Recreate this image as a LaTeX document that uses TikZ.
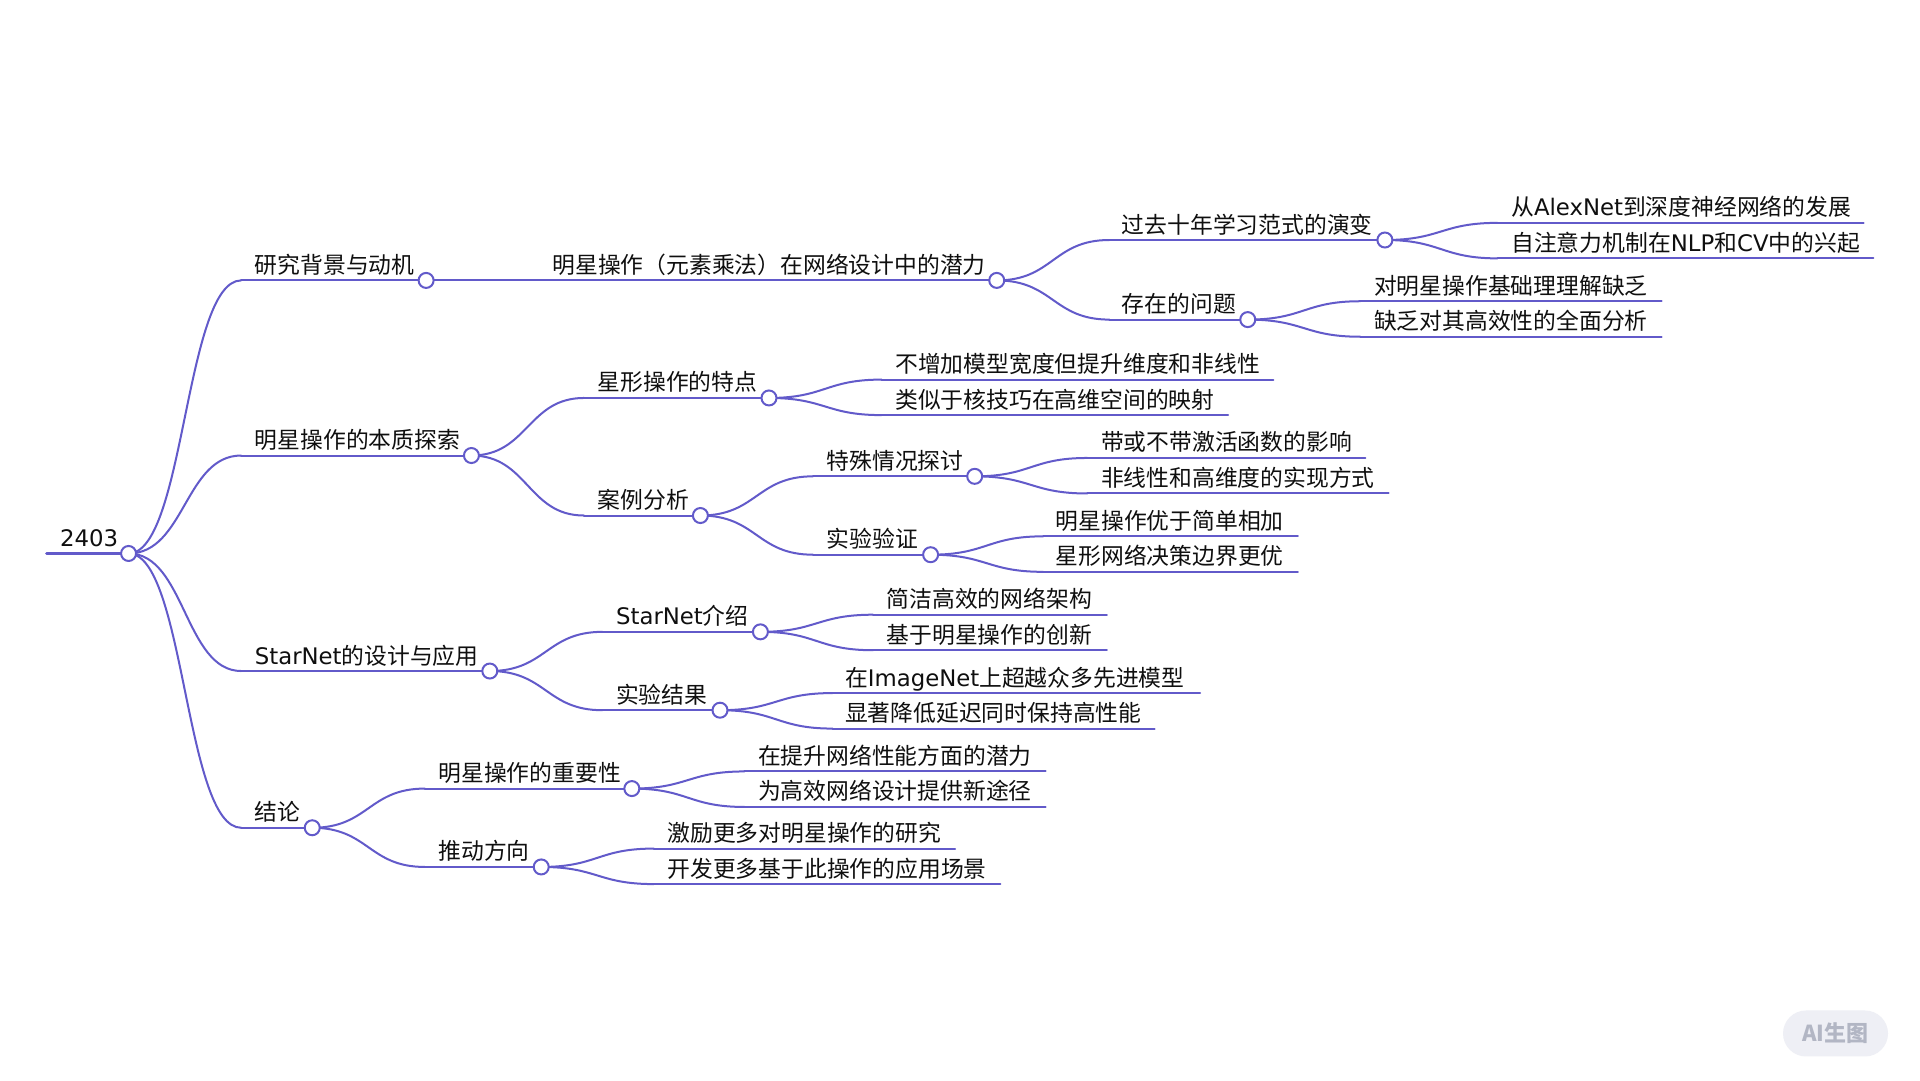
\documentclass[tikz,border=0pt]{standalone}
\usepackage{fontspec}
\setmainfont{Noto Sans CJK SC}
\newfontfamily\lat{DejaVu Sans}
\usetikzlibrary{calc}
\definecolor{mmline}{RGB}{98,90,202}
\definecolor{mmtext}{RGB}{15,15,15}
\definecolor{wmbg}{RGB}{238,239,245}
\definecolor{wmtx}{RGB}{178,182,196}
\newcommand\mmnode[6]{%
  \coordinate (#1-s) at (#3,#2);
  \coordinate (#1-e) at (#5,#2);
  \node[txt] (#1) at (#4,#2-5.7) {#6};
  \draw[ln] (#1-s) -- (#1-e);
}
\newcommand\mmlink[2]{%
  \draw[ln] let \p1=(#1), \p2=(#2) in (\p1) .. controls ({(\x1+\x2)/2},\y1) and ({(\x1+\x2)/2},\y2) .. (\p2);
}
\begin{document}
\begin{tikzpicture}[x=1.2245pt,y=-1.2245pt,
  ln/.style={draw=mmline,line width=2pt,line cap=round},
  rootln/.style={draw=mmline,line width=3pt,line cap=round},
  txt/.style={anchor=base west,inner sep=0pt,text=mmtext,font=\fontsize{22.8pt}{26pt}\selectfont},
  dot/.style={circle,draw=mmline,fill=white,line width=2pt,minimum size=15pt,inner sep=0pt}]
\useasboundingbox[fill=white] (0,0) rectangle (1568,882);

% root
\coordinate (R-s) at (38,452);
\coordinate (R-e) at (105,452);
\node[txt] (R) at (49,452-5.7) {\lat 2403};
\draw[rootln] (R-s) -- (R-e);

% level 1
\mmnode{A}{229}{197}{208}{348}{研究背景与动机}
\mmnode{B}{372}{197}{208}{385}{明星操作的本质探索}
\mmnode{C}{548}{197}{208}{400}{{\lat StarNet}的设计与应用}
\mmnode{D}{676}{197}{208}{255}{结论}
\mmlink{R-e}{A-s}
\mmlink{R-e}{B-s}
\mmlink{R-e}{C-s}
\mmlink{R-e}{D-s}

% branch A
\mmnode{A1}{229}{440}{451}{814}{明星操作（元素乘法）在网络设计中的潜力}
\draw[ln] (A-e) -- (A1-s);
\mmnode{A1a}{196}{906}{916}{1131}{过去十年学习范式的演变}
\mmnode{A1b}{261}{906}{916}{1019}{存在的问题}
\mmlink{A1-e}{A1a-s}
\mmlink{A1-e}{A1b-s}
\mmnode{A1a1}{182}{1223}{1234}{1522}{从{\lat AlexNet}到深度神经网络的发展}
\mmnode{A1a2}{211}{1223}{1234}{1530}{自注意力机制在{\lat NLP}和{\lat CV}中的兴起}
\mmlink{A1a-e}{A1a1-s}
\mmlink{A1a-e}{A1a2-s}
\mmnode{A1b1}{246}{1111}{1122}{1357}{对明星操作基础理理解缺乏}
\mmnode{A1b2}{275}{1111}{1122}{1357}{缺乏对其高效性的全面分析}
\mmlink{A1b-e}{A1b1-s}
\mmlink{A1b-e}{A1b2-s}

% branch B
\mmnode{B1}{325}{477}{488}{628}{星形操作的特点}
\mmnode{B2}{421}{477}{488}{572}{案例分析}
\mmlink{B-e}{B1-s}
\mmlink{B-e}{B2-s}
\mmnode{B1a}{310}{720}{731}{1040}{不增加模型宽度但提升维度和非线性}
\mmnode{B1b}{339}{720}{731}{1003}{类似于核技巧在高维空间的映射}
\mmlink{B1-e}{B1a-s}
\mmlink{B1-e}{B1b-s}
\mmnode{B2a}{389}{664}{675}{796}{特殊情况探讨}
\mmnode{B2b}{453}{664}{675}{760}{实验验证}
\mmlink{B2-e}{B2a-s}
\mmlink{B2-e}{B2b-s}
\mmnode{B2a1}{374}{888}{899}{1115}{带或不带激活函数的影响}
\mmnode{B2a2}{403}{888}{899}{1134}{非线性和高维度的实现方式}
\mmlink{B2a-e}{B2a1-s}
\mmlink{B2a-e}{B2a2-s}
\mmnode{B2b1}{438}{852}{862}{1060}{明星操作优于简单相加}
\mmnode{B2b2}{467}{852}{862}{1060}{星形网络决策边界更优}
\mmlink{B2b-e}{B2b1-s}
\mmlink{B2b-e}{B2b2-s}

% branch C
\mmnode{C1}{516}{492}{503}{621}{{\lat StarNet}介绍}
\mmnode{C2}{580}{492}{503}{588}{实验结果}
\mmlink{C-e}{C1-s}
\mmlink{C-e}{C2-s}
\mmnode{C1a}{502}{713}{724}{904}{简洁高效的网络架构}
\mmnode{C1b}{531}{713}{724}{904}{基于明星操作的创新}
\mmlink{C1-e}{C1a-s}
\mmlink{C1-e}{C1b-s}
\mmnode{C2a}{566}{680}{690}{980}{在{\lat ImageNet}上超越众多先进模型}
\mmnode{C2b}{595}{680}{690}{943}{显著降低延迟同时保持高性能}
\mmlink{C2-e}{C2a-s}
\mmlink{C2-e}{C2b-s}

% branch D
\mmnode{D1}{644}{347}{358}{516}{明星操作的重要性}
\mmnode{D2}{708}{347}{358}{442}{推动方向}
\mmlink{D-e}{D1-s}
\mmlink{D-e}{D2-s}
\mmnode{D1a}{630}{608}{619}{854}{在提升网络性能方面的潜力}
\mmnode{D1b}{659}{608}{619}{854}{为高效网络设计提供新途径}
\mmlink{D1-e}{D1a-s}
\mmlink{D1-e}{D1b-s}
\mmnode{D2a}{693}{534}{545}{780}{激励更多对明星操作的研究}
\mmnode{D2b}{722}{534}{545}{817}{开发更多基于此操作的应用场景}
\mmlink{D2-e}{D2a-s}
\mmlink{D2-e}{D2b-s}

% circles
\foreach \n in {R,A,A1,A1a,A1b,B,B1,B2,B2a,B2b,C,C1,C2,D,D1,D2}
  \node[dot] (\n-c) at (\n-e) {};

% watermark
\node[fill=wmbg,rounded corners=23pt,minimum width=105pt,minimum height=46pt,inner sep=0pt,
      text=wmtx,font=\fontsize{22pt}{24pt}\selectfont\bfseries] (wm) at (1499,844) {AI生图};
\end{tikzpicture}
\end{document}
